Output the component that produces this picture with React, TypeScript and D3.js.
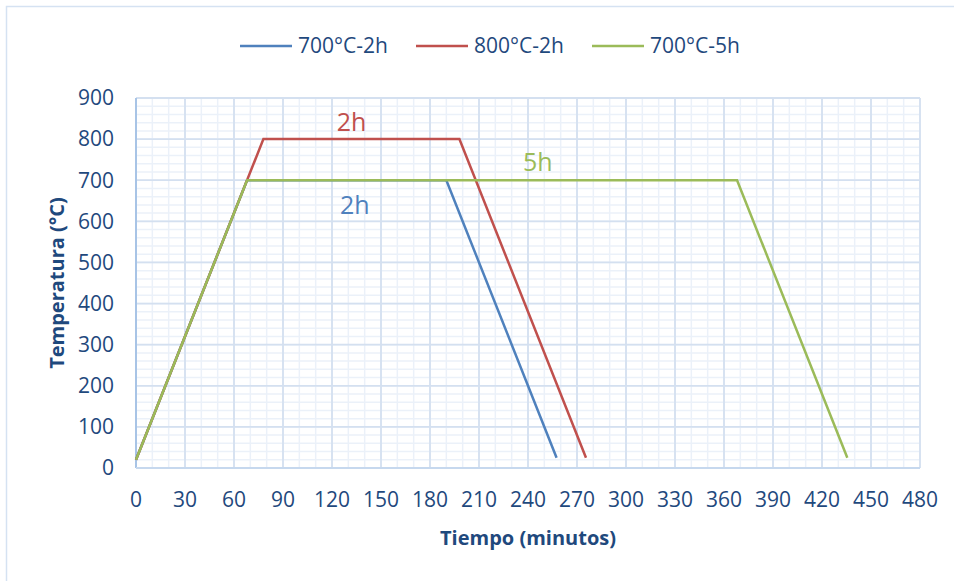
import React from "react";
import * as d3 from "d3";

const seriesNames = ["700°C-2h", "800°C-2h", "700°C-5h"];
const seriesColors = ["#4F81BD", "#C0504D", "#9BBB59"];
const blueTimes = [0, 68, 190, 257.5];
const blueTemps = [20, 700, 700, 25];
const redTimes = [0, 78, 198, 275.5];
const redTemps = [20, 800, 800, 25];
const greenTimes = [0, 68, 368, 435.5];
const greenTemps = [20, 700, 700, 25];
const xTicks = d3.range(0, 481, 30);
const yTicks = d3.range(0, 901, 100);
const xMinor = d3.range(0, 481, 10);
const yMinor = d3.range(0, 901, 20);
const annotations = [
  { text: "2h", x: 132, y: 800, color: "#C0504D" },
  { text: "2h", x: 134, y: 700, color: "#4F81BD" },
  { text: "5h", x: 246, y: 700, color: "#9BBB59" },
];

const W = 954;
const H = 581;
const left = 136;
const right = 920;
const top = 98;
const bottom = 468;
const font = "'Open Sans', sans-serif";
const textColor = "#1F497D";

export default function App() {
  const x = d3.scaleLinear().domain([0, 480]).range([left, right]);
  const y = d3.scaleLinear().domain([0, 900]).range([bottom, top]);
  const line = d3
    .line<[number, number]>()
    .x((d) => x(d[0]))
    .y((d) => y(d[1]));
  const series = [
    d3.zip(blueTimes, blueTemps) as [number, number][],
    d3.zip(redTimes, redTemps) as [number, number][],
    d3.zip(greenTimes, greenTemps) as [number, number][],
  ];
  const annOffsets = [
    { dx: 0, dy: -8 },
    { dx: 0, dy: 34 },
    { dx: 0, dy: -9 },
  ];
  const legendX = [240, 416, 592];

  return (
    <svg
      width={W}
      height={H}
      style={{ position: "absolute", left: 0, top: 0, background: "#fff" }}
    >
      <rect x={6.5} y={6.5} width={W + 10} height={H + 10} fill="#fff" stroke="#D5E2F2" strokeWidth={1.5} />
      {/* minor grid */}
      {xMinor.map((v) => (
        <line key={"xm" + v} x1={x(v)} x2={x(v)} y1={top} y2={bottom} stroke="#EBF1F9" strokeWidth={1.5} />
      ))}
      {yMinor.map((v) => (
        <line key={"ym" + v} x1={left} x2={right} y1={y(v)} y2={y(v)} stroke="#EBF1F9" strokeWidth={1.5} />
      ))}
      {/* major grid */}
      {xTicks.map((v) => (
        <line key={"xM" + v} x1={x(v)} x2={x(v)} y1={top} y2={bottom} stroke="#D4E0F0" strokeWidth={1.8} />
      ))}
      {yTicks.map((v) => (
        <line key={"yM" + v} x1={left} x2={right} y1={y(v)} y2={y(v)} stroke="#D4E0F0" strokeWidth={1.8} />
      ))}
      {/* axes */}
      <line x1={left} x2={left} y1={top} y2={bottom} stroke="#A8C4E6" strokeWidth={2} />
      <line x1={left} x2={right} y1={bottom} y2={bottom} stroke="#C6D8EE" strokeWidth={2} />
      {/* tick labels */}
      {xTicks.map((v) => (
        <text key={"xt" + v} x={x(v)} y={507} textAnchor="middle" fontFamily={font} fontSize={21} fill={textColor}>
          {v}
        </text>
      ))}
      {yTicks.map((v) => (
        <text key={"yt" + v} x={114} y={y(v)} dy="0.35em" textAnchor="end" fontFamily={font} fontSize={21} fill={textColor}>
          {v}
        </text>
      ))}
      {/* axis titles */}
      <text x={528} y={545} textAnchor="middle" fontFamily={font} fontSize={20} fontWeight="bold" fill={textColor}>
        Tiempo (minutos)
      </text>
      <text
        transform={`translate(64,${(top + bottom) / 2}) rotate(-90)`}
        textAnchor="middle"
        fontFamily={font}
        fontSize={20}
        fontWeight="bold"
        fill={textColor}
      >
        Temperatura (°C)
      </text>
      {/* series */}
      {series.map((s, i) => (
        <path key={"s" + i} d={line(s) || ""} fill="none" stroke={seriesColors[i]} strokeWidth={2.5} strokeLinejoin="miter" />
      ))}
      {/* annotations */}
      {annotations.map((a, i) => (
        <text
          key={"a" + i}
          x={x(a.x) + annOffsets[i].dx}
          y={y(a.y) + annOffsets[i].dy}
          textAnchor="middle"
          fontFamily={font}
          fontSize={25}
          fill={a.color}
        >
          {a.text}
        </text>
      ))}
      {/* legend */}
      {seriesNames.map((n, i) => (
        <g key={"l" + i}>
          <line x1={legendX[i]} x2={legendX[i] + 52} y1={46} y2={46} stroke={seriesColors[i]} strokeWidth={2.5} />
          <text x={legendX[i] + 58} y={46} dy="0.35em" fontFamily={font} fontSize={21} fill={textColor}>
            {n}
          </text>
        </g>
      ))}
    </svg>
  );
}
